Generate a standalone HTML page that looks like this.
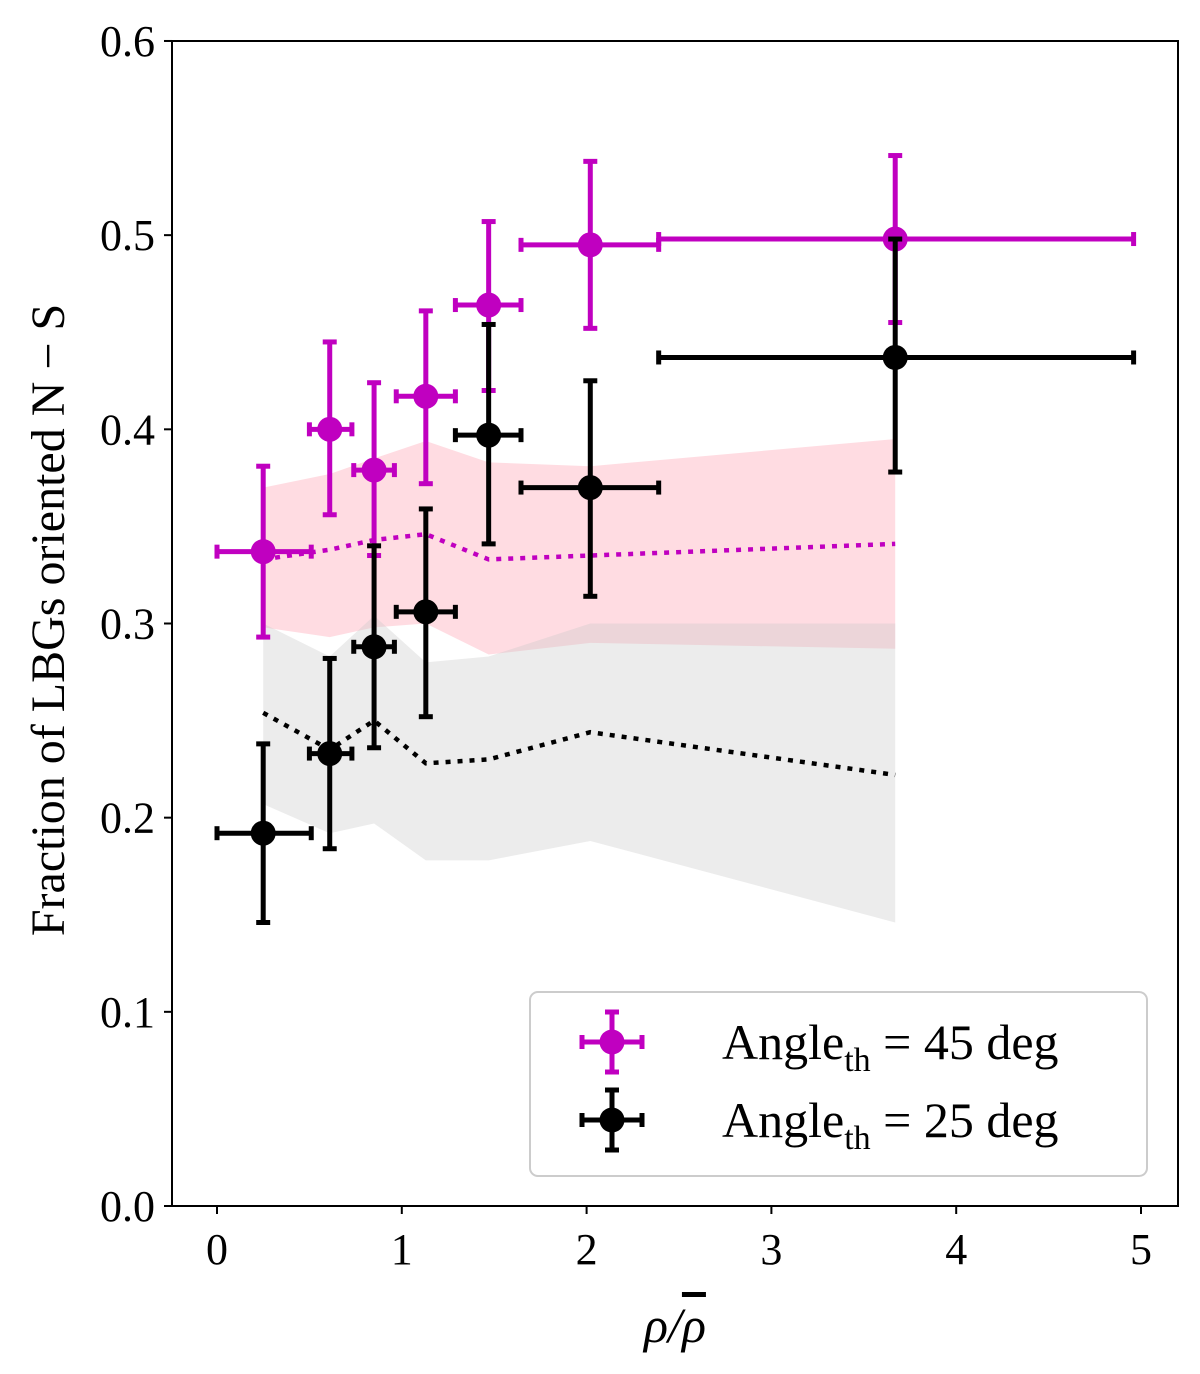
<!DOCTYPE html>
<html><head><meta charset="utf-8"><style>
body{margin:0;background:#fff}
svg text{font-family:"Liberation Serif",serif;fill:#000}
</style></head><body>
<svg id="chart" width="1200" height="1369" xmlns="http://www.w3.org/2000/svg">
<g id="bands"></g><g id="marks"></g><g id="axes"></g>
</svg>
<script>
const xs = [0.25, 0.61, 0.85, 1.13, 1.47, 2.02, 3.67];
const xLo = [0.0, 0.50, 0.74, 0.97, 1.29, 1.645, 2.39];
const xHi = [0.51, 0.73, 0.96, 1.29, 1.645, 2.39, 4.96];
const magY = [0.337, 0.400, 0.379, 0.417, 0.464, 0.495, 0.498];
const magErrHi = [0.381, 0.445, 0.424, 0.461, 0.507, 0.538, 0.541];
const magErrLo = [0.293, 0.356, 0.335, 0.372, 0.420, 0.452, 0.455];
const blkY = [0.192, 0.233, 0.288, 0.306, 0.397, 0.370, 0.437];
const blkErrHi = [0.238, 0.282, 0.340, 0.359, 0.454, 0.425, 0.498];
const blkErrLo = [0.146, 0.184, 0.236, 0.252, 0.341, 0.314, 0.378];
const pinkHi = [0.370, 0.377, 0.385, 0.394, 0.383, 0.381, 0.395];
const pinkLo = [0.298, 0.293, 0.298, 0.300, 0.284, 0.290, 0.287];
const pinkMed = [0.333, 0.338, 0.343, 0.346, 0.333, 0.335, 0.341];
const grayHi = [0.300, 0.283, 0.304, 0.280, 0.283, 0.300, 0.300];
const grayLo = [0.207, 0.192, 0.197, 0.178, 0.178, 0.188, 0.146];
const grayMed = [0.254, 0.235, 0.250, 0.228, 0.230, 0.244, 0.222];
const xTicks = [0,1,2,3,4,5];
const yTicks = [0.0,0.1,0.2,0.3,0.4,0.5,0.6];

const NS="http://www.w3.org/2000/svg";
const X = v => 217 + v*184.8;
const Y = v => 1206 - v*1941.7;
function mk(tag, attrs, parent){const e=document.createElementNS(NS,tag);for(const k in attrs)e.setAttribute(k,attrs[k]);parent.appendChild(e);return e;}
const bands=document.getElementById('bands'), marks=document.getElementById('marks'), axes=document.getElementById('axes');

function band(hi, lo, fill, name){
  const pts = xs.map((x,i)=>X(x)+','+Y(hi[i])).concat(xs.map((x,i)=>X(x)+','+Y(lo[i])).reverse());
  const p=mk('polygon',{points:pts.join(' '),fill:fill},bands);
  
  
}
band(pinkHi,pinkLo,'rgba(255,192,203,0.55)','pink-band');
band(grayHi,grayLo,'rgba(200,200,200,0.35)','gray-band');
function med(vals,color,name){
  const l=mk('polyline',{points:xs.map((x,i)=>X(x)+','+Y(vals[i])).join(' '),fill:'none',stroke:color,'stroke-width':4.5,'stroke-dasharray':'5,7'},bands);
  
  
}
med(pinkMed,'#c000c0','magenta-median-line');
med(grayMed,'#000','black-median-line');

function series(ys,hi,lo,color,name){
  ys.forEach((y,i)=>{
    const g=mk('g',{stroke:color,'stroke-width':5},marks);
    
    
    const cx=X(xs[i]), cy=Y(y);
    mk('line',{x1:X(xLo[i]),x2:X(xHi[i]),y1:cy,y2:cy},g);
    mk('line',{x1:cx,x2:cx,y1:Y(hi[i]),y2:Y(lo[i])},g);
    [X(xLo[i]),X(xHi[i])].forEach(xx=>mk('line',{x1:xx,x2:xx,y1:cy-7,y2:cy+7},g));
    [Y(hi[i]),Y(lo[i])].forEach(yy=>mk('line',{x1:cx-7,x2:cx+7,y1:yy,y2:yy},g));
    mk('circle',{cx:cx,cy:cy,r:12.5,fill:color,stroke:'none'},g);
  });
}
series(magY,magErrHi,magErrLo,'#c000c0','magenta');
series(blkY,blkErrHi,blkErrLo,'#000','black');

const frame=mk('rect',{x:172,y:41,width:1006,height:1165,fill:'none',stroke:'#000','stroke-width':2},axes);


xTicks.forEach(t=>{
  mk('line',{x1:X(t),x2:X(t),y1:1206,y2:1214,stroke:'#000','stroke-width':2},axes);
  const tx=mk('text',{x:X(t),y:1264,'font-size':44,'text-anchor':'middle'},axes);tx.textContent=t;
  
  
});
yTicks.forEach(t=>{
  mk('line',{x1:164,x2:172,y1:Y(t),y2:Y(t),stroke:'#000','stroke-width':2},axes);
  const tx=mk('text',{x:155,y:Y(t)+15,'font-size':44,'text-anchor':'end'},axes);tx.textContent=t.toFixed(1);
  
  
});
const xl=mk('text',{x:675,y:1342,'font-size':50,'text-anchor':'middle','font-style':'italic'},axes);
xl.innerHTML='ρ/<tspan text-decoration="overline">ρ</tspan>';


const yl=mk('text',{x:0,y:0,'font-size':48,'text-anchor':'middle',transform:'translate(64,620) rotate(-90)'},axes);yl.textContent='Fraction of LBGs oriented N − S';



const lg=mk('g',{},axes);


mk('rect',{x:530,y:992,width:617,height:184,rx:8,fill:'#fff',stroke:'#ccc','stroke-width':2},lg);
[['#c000c0','45',1042],['#000','25',1120]].forEach(([c,v,yy])=>{
  const e=mk('g',{stroke:c,'stroke-width':5},lg);
  
  
  mk('line',{x1:582,x2:642,y1:yy,y2:yy},e);
  mk('line',{x1:612,x2:612,y1:yy-30,y2:yy+30},e);
  [582,642].forEach(x=>mk('line',{x1:x,x2:x,y1:yy-7,y2:yy+7},e));
  [yy-30,yy+30].forEach(y=>mk('line',{x1:605,x2:619,y1:y,y2:y},e));
  mk('circle',{cx:612,cy:yy,r:12.5,fill:c,stroke:'none'},e);
  const t=mk('text',{x:722,y:yy+17,'font-size':50},lg);
  t.innerHTML='Angle<tspan font-size="34" dy="12">th</tspan><tspan dy="-12"> = '+v+' deg</tspan>';
});
</script>
</body></html>
